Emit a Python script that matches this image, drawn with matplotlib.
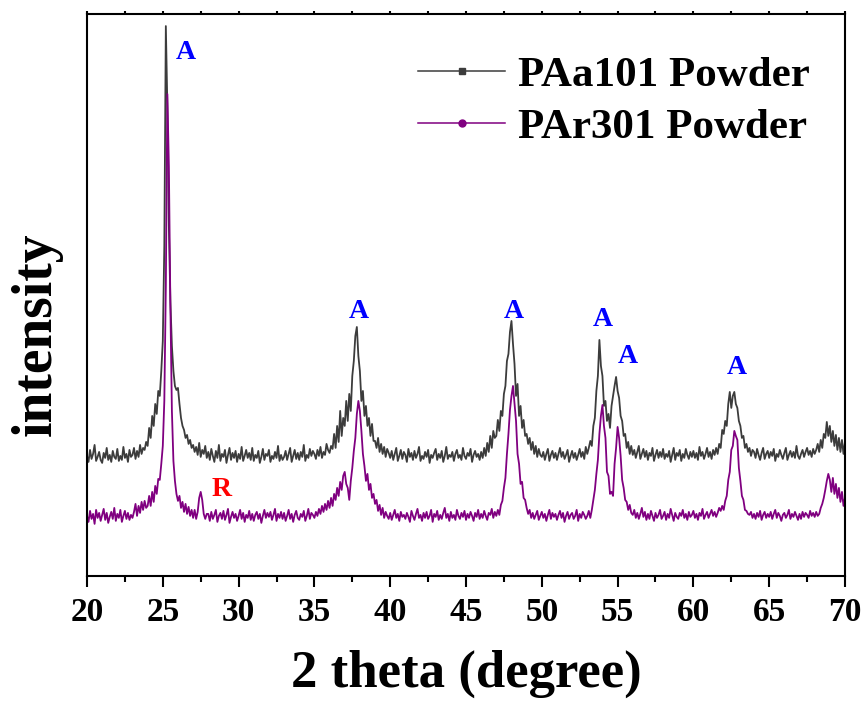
import numpy as np
import matplotlib
matplotlib.use("Agg")
import matplotlib.pyplot as plt
from matplotlib.lines import Line2D

# -----------------------------
# Data (2 theta step 0.1 deg, intensity in arbitrary units)
# -----------------------------
two_theta = np.round(np.arange(20.0, 70.05, 0.1), 1)

# PAa101 powder, one row per degree (d.0 ... d.9)
paa101 = [
    120, 114, 126, 117, 122, 131, 115, 119, 124, 116,  # 20
    113, 123, 118, 128, 116, 121, 114, 125, 119, 117,  # 21
    127, 115, 120, 116, 129, 118, 122, 114, 126, 119,  # 22
    121, 128, 117, 125, 119, 131, 122, 128, 126, 134,  # 23
    130, 148, 138, 160, 150, 172, 162, 185, 180, 205,  # 24
    235, 330, 550, 470, 350, 275, 230, 205, 190, 186,  # 25
    188, 172, 158, 150, 146, 138, 141, 132, 136, 128,  # 26
    131, 124, 129, 121, 133, 119, 126, 122, 130, 118,  # 27
    124, 116, 127, 120, 114, 125, 118, 131, 115, 122,  # 28
    119, 126, 113, 121, 128, 116, 123, 118, 125, 114,  # 29
    122, 117, 129, 115, 120, 126, 118, 123, 116, 128,  # 30
    115, 121, 118, 125, 113, 119, 127, 116, 122, 120,  # 31
    126, 114, 120, 117, 124, 118, 130, 115, 121, 116,  # 32
    119, 125, 116, 122, 128, 114, 120, 126, 117, 123,  # 33
    116, 124, 119, 131, 115, 121, 118, 127, 120, 125,  # 34
    122, 117, 126, 120, 129, 118, 124, 121, 132, 126,  # 35
    123, 130, 127, 142, 128, 150, 134, 165, 140, 158,  # 36
    150, 175, 155, 182, 165, 200, 215, 240, 249, 220,  # 37
    205, 175, 185, 160, 170, 150, 158, 140, 152, 135,  # 38
    135, 128, 138, 124, 132, 122, 129, 119, 127, 123,  # 39
    118, 125, 116, 122, 128, 115, 120, 126, 117, 124,  # 40
    121, 114, 127, 119, 123, 116, 125, 118, 122, 129,  # 41
    115, 120, 117, 124, 119, 126, 113, 121, 118, 123,  # 42
    127, 116, 122, 118, 125, 114, 120, 129, 117, 121,  # 43
    119, 124, 115, 122, 126, 118, 121, 116, 128, 120,  # 44
    117, 123, 120, 127, 114, 121, 125, 119, 122, 116,  # 45
    124, 118, 128, 120, 133, 124, 140, 128, 145, 138,  # 46
    140, 156, 145, 165, 160, 182, 190, 215, 222, 244,  # 47
    255, 232, 212, 180, 192, 160, 170, 148, 156, 140,  # 48
    142, 132, 138, 126, 134, 122, 130, 119, 127, 121,  # 49
    119, 124, 116, 122, 127, 115, 121, 125, 118, 123,  # 50
    116, 122, 128, 119, 124, 117, 121, 126, 114, 120,  # 51
    125, 118, 123, 116, 121, 127, 119, 124, 117, 129,  # 52
    122, 128, 135, 130, 150, 158, 185, 200, 236, 210,  # 53
    200, 170, 175, 155, 162, 148, 170, 180, 190, 199,  # 54
    185, 178, 160, 155, 140, 142, 128, 134, 122, 130,  # 55
    121, 126, 118, 124, 130, 117, 122, 127, 119, 125,  # 56
    116, 123, 120, 128, 115, 121, 126, 118, 124, 119,  # 57
    127, 117, 122, 119, 125, 114, 121, 128, 116, 123,  # 58
    120, 126, 115, 122, 118, 127, 121, 117, 124, 119,  # 59
    125, 118, 123, 116, 129, 120, 124, 117, 122, 128,  # 60
    119, 124, 117, 126, 121, 128, 122, 132, 128, 146,  # 61
    142, 155, 150, 172, 184, 168, 180, 184, 172, 168,  # 62
    155, 150, 138, 140, 128, 132, 124, 128, 120, 126,  # 63
    124, 118, 127, 121, 116, 123, 128, 117, 122, 125,  # 64
    118, 124, 120, 127, 115, 122, 119, 126, 121, 117,  # 65
    123, 128, 116, 121, 125, 119, 124, 118, 130, 120,  # 66
    117, 122, 126, 119, 124, 128, 121, 125, 119, 127,  # 67
    122, 126, 132, 124, 136, 128, 142, 138, 154, 140,  # 68
    150, 134, 145, 130, 141, 126, 138, 124, 136, 122,  # 69
    134,                                                # 70
]

# PAr301 powder
par301 = [
    60, 54, 65, 57, 62, 52, 66, 58, 63, 55,  # 20
    61, 67, 56, 63, 53, 59, 64, 57, 68, 55,  # 21
    62, 58, 66, 54, 60, 65, 57, 63, 56, 61,  # 22
    58, 64, 72, 60, 70, 63, 74, 66, 75, 68,  # 23
    70, 80, 70, 84, 74, 90, 82, 97, 96, 112,  # 24
    130, 175, 290, 482, 410, 270, 165, 115, 95, 82,  # 25
    75, 80, 68, 74, 64, 72, 62, 69, 60, 66,  # 26
    58, 66, 57, 64, 78, 84, 76, 62, 57, 62,  # 27
    62, 55, 64, 57, 61, 66, 54, 60, 63, 57,  # 28
    65, 56, 61, 67, 53, 59, 64, 58, 62, 55,  # 29
    60, 66, 57, 63, 54, 61, 58, 65, 56, 62,  # 30
    55, 61, 64, 57, 62, 53, 60, 66, 58, 63,  # 31
    59, 64, 56, 61, 67, 55, 62, 58, 64, 57,  # 32
    63, 55, 60, 66, 57, 62, 54, 61, 65, 58,  # 33
    56, 62, 59, 65, 55, 60, 67, 57, 63, 61,  # 34
    58, 64, 60, 67, 62, 70, 64, 72, 66, 75,  # 35
    68, 78, 70, 82, 76, 88, 80, 94, 86, 100,  # 36
    104, 92, 88, 76, 95, 108, 125, 138, 162, 175,  # 37
    165, 145, 122, 110, 95, 102, 86, 92, 78, 82,  # 38
    72, 76, 65, 71, 61, 68, 58, 64, 60, 57,  # 39
    63, 56, 61, 66, 58, 62, 55, 64, 59, 61,  # 40
    57, 63, 59, 54, 65, 60, 56, 62, 67, 58,  # 41
    61, 55, 63, 58, 64, 57, 60, 66, 54, 62,  # 42
    59, 65, 56, 61, 57, 63, 68, 58, 62, 55,  # 43
    64, 58, 61, 56, 66, 60, 57, 63, 59, 65,  # 44
    56, 62, 58, 64, 60, 55, 63, 59, 66, 57,  # 45
    62, 58, 65, 60, 56, 63, 61, 67, 58, 64,  # 46
    60, 66, 61, 71, 75, 88, 98, 122, 142, 166,  # 47
    180, 190, 172, 155, 122, 112, 92, 94, 78, 76,  # 48
    68, 62, 66, 58, 63, 57, 61, 65, 56, 60,  # 49
    64, 58, 62, 55, 61, 66, 57, 63, 59, 62,  # 50
    56, 61, 65, 58, 63, 54, 60, 64, 57, 61,  # 51
    63, 57, 60, 66, 55, 62, 58, 64, 61, 57,  # 52
    60, 65, 58, 66, 76, 86, 102, 116, 142, 160,  # 53
    171, 150, 138, 104, 100, 82, 84, 80, 112, 128,  # 54
    149, 138, 120, 96, 88, 76, 74, 66, 71, 63,  # 55
    61, 66, 58, 63, 57, 62, 68, 59, 64, 56,  # 56
    62, 57, 65, 60, 55, 63, 58, 61, 66, 57,  # 57
    60, 64, 56, 62, 58, 67, 61, 55, 63, 59,  # 58
    57, 63, 60, 66, 58, 62, 56, 64, 59, 61,  # 59
    65, 58, 62, 56, 63, 60, 67, 57, 61, 64,  # 60
    58, 62, 66, 60, 64, 59, 63, 68, 65, 70,  # 61
    66, 75, 80, 96, 104, 126, 130, 145, 140, 136,  # 62
    108, 95, 80, 76, 66, 65, 62, 61, 64, 58,  # 63
    62, 57, 63, 59, 65, 56, 61, 64, 58, 62,  # 64
    59, 64, 57, 62, 66, 58, 63, 60, 55, 61,  # 65
    63, 58, 61, 66, 57, 62, 59, 64, 60, 56,  # 66
    62, 57, 64, 59, 63, 61, 58, 65, 60, 63,  # 67
    59, 64, 60, 62, 68, 72, 78, 86, 95, 102,  # 68
    96, 84, 98, 82, 92, 78, 88, 74, 84, 70,  # 69
    78,                                       # 70
]

series_names = ["PAa101 Powder", "PAr301 Powder"]
series_colors = ["#3c3c3c", "#800080"]
series_markers = ["s", "o"]

# peak labels: A = anatase, R = rutile
peak_labels = ["A", "A", "A", "A", "A", "A", "R"]
peak_x = [26.55, 37.95, 48.15, 54.0, 55.65, 62.85, 28.85]
peak_y = [524, 264, 264, 256, 219, 208, 86]
peak_colors = ["blue", "blue", "blue", "blue", "blue", "blue", "red"]

# -----------------------------
# Plot
# -----------------------------
plt.rcParams["font.family"] = ["Liberation Serif", "DejaVu Serif"]
plt.rcParams["font.weight"] = "bold"

fig = plt.figure(figsize=(8.64, 7.04), dpi=100)
ax = fig.add_axes([0.1007, 0.182, 0.8773, 0.798])

for vals, col in zip([paa101, par301], series_colors):
    ax.plot(two_theta, vals, color=col, lw=1.3)

for lab, px, py, pc in zip(peak_labels, peak_x, peak_y, peak_colors):
    ax.text(px, py, lab, color=pc, fontsize=20, fontweight="bold",
            ha="center", va="center")

ax.set_xlim(20, 70)
ax.set_ylim(0, 562)
ax.set_xticks(np.arange(20, 71, 5))
ax.set_xticks(np.arange(22.5, 70, 5), minor=True)
ax.set_yticks([])
ax.tick_params(axis="x", which="major", direction="out", length=8, width=1.5,
               labelsize=24, pad=7)
ax.tick_params(axis="x", which="minor", direction="out", length=4, width=1.5)
ax.tick_params(axis="x", which="both", top=True, labeltop=False)
for t in ax.xaxis.get_major_ticks() + ax.xaxis.get_minor_ticks():
    t.tick2line.set_markersize(2)
for lab in ax.get_xticklabels():
    lab.set_fontweight("bold")
for sp in ax.spines.values():
    sp.set_linewidth(1.5)

ax.set_xlabel("2 theta (degree)", fontsize=38, fontweight="bold")
ax.xaxis.set_label_coords(0.5, -0.132)
ax.set_ylabel("intensity", fontsize=40, fontweight="bold")
ax.yaxis.set_label_coords(-0.032, 0.43)

handles = [Line2D([], [], color=c, lw=1.1, marker=m, markersize=5)
           for c, m in zip(series_colors, series_markers)]
ax.legend(handles, series_names, loc="upper right", frameon=False,
          bbox_to_anchor=(1.004, 0.994), handlelength=2.0,
          handletextpad=0.3, labelspacing=0.3,
          prop={"weight": "bold", "size": 31})

fig.savefig("out.png", dpi=100)
